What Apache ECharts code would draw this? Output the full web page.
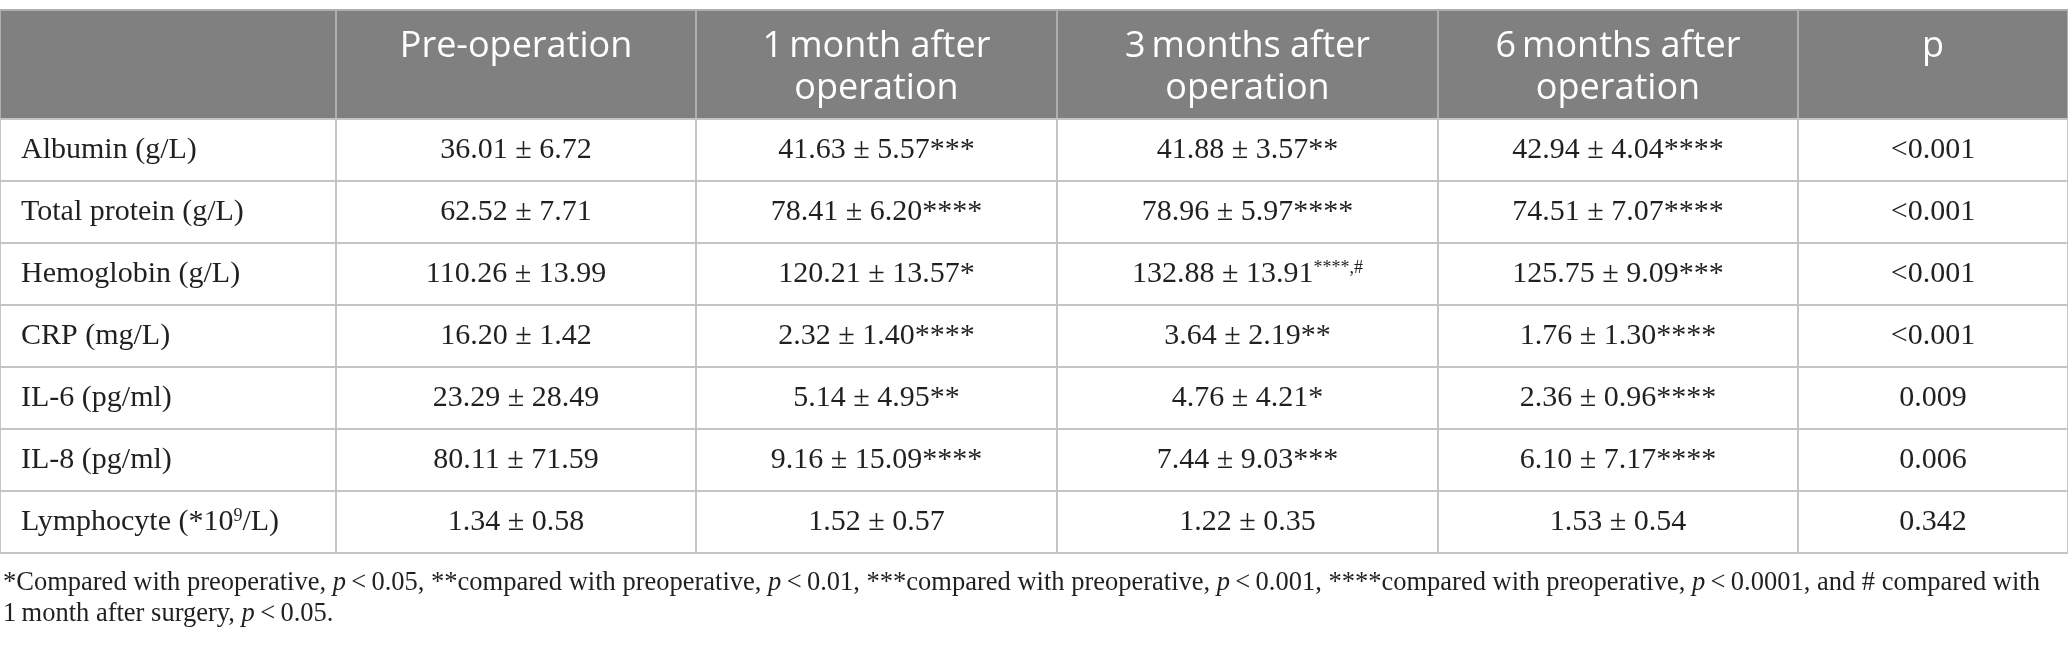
<!DOCTYPE html>
<html>
<head>
<meta charset="utf-8">
<script src="https://cdn.jsdelivr.net/npm/echarts@6/dist/echarts.min.js"></script>
<style>
html, body { margin: 0; padding: 0; background: #fff; }
#main { width: 2068px; height: 647px; }
</style>
</head>
<body>
<div id="main"></div>
<script>
// table content
var headers = ['', 'Pre-operation', '1\u2009month after\noperation', '3\u2009months after\noperation', '6\u2009months after\noperation', 'p'];
var rowLabels = ['Albumin (g/L)', 'Total protein (g/L)', 'Hemoglobin (g/L)', 'CRP (mg/L)', 'IL-6 (pg/ml)', 'IL-8 (pg/ml)', 'Lymphocyte (*10{sup|9}/L)'];
var preOp = ['36.01 ± 6.72', '62.52 ± 7.71', '110.26 ± 13.99', '16.20 ± 1.42', '23.29 ± 28.49', '80.11 ± 71.59', '1.34 ± 0.58'];
var month1 = ['41.63 ± 5.57***', '78.41 ± 6.20****', '120.21 ± 13.57*', '2.32 ± 1.40****', '5.14 ± 4.95**', '9.16 ± 15.09****', '1.52 ± 0.57'];
var month3 = ['41.88 ± 3.57**', '78.96 ± 5.97****', '132.88 ± 13.91{sup|****,#}', '3.64 ± 2.19**', '4.76 ± 4.21*', '7.44 ± 9.03***', '1.22 ± 0.35'];
var month6 = ['42.94 ± 4.04****', '74.51 ± 7.07****', '125.75 ± 9.09***', '1.76 ± 1.30****', '2.36 ± 0.96****', '6.10 ± 7.17****', '1.53 ± 0.54'];
var pValues = ['<0.001', '<0.001', '<0.001', '<0.001', '0.009', '0.006', '0.342'];
var footnote = [
    '*Compared with preoperative, {i|p}\u2009<\u20090.05, **compared with preoperative, {i|p}\u2009<\u20090.01, ***compared with preoperative, {i|p}\u2009<\u20090.001, ****compared with preoperative, {i|p}\u2009<\u20090.0001, and # compared with',
    '1\u2009month after surgery, {i|p}\u2009<\u20090.05.'
];

// layout (axis units = px)
var colEdges = [0, 336, 696, 1057, 1438, 1798, 2068];
var rowEdges = [0, 109, 171, 233, 295, 357, 419, 481, 543];

var serif = '"Liberation Serif", "DejaVu Serif", serif';
var sans = '"Open Sans", "Noto Sans", sans-serif';
var ink = '#231f20';

var columnsData = [rowLabels, preOp, month1, month3, month6, pValues];
var cells = [];
for (var c = 0; c < headers.length; c++) {
    cells.push([c, 0]);
    for (var r = 0; r < rowLabels.length; r++) cells.push([c, r + 1]);
}

function cellText(c, r) {
    return r === 0 ? headers[c] : columnsData[c][r - 1];
}

var bodyRich = {
    sup: { fontFamily: serif, fontSize: 18, fill: ink, verticalAlign: 'top', lineHeight: 30 }
};

function renderItem(params, api) {
    var c = api.value(0), r = api.value(1);
    var p0 = api.coord([colEdges[c], rowEdges[r]]);
    var p1 = api.coord([colEdges[c + 1], rowEdges[r + 1]]);
    var w = p1[0] - p0[0], h = p1[1] - p0[1];
    var isHead = r === 0;
    var rect = {
        type: 'rect',
        shape: { x: p0[0], y: p0[1], width: w, height: h },
        style: { fill: isHead ? '#808080' : '#fff', stroke: isHead ? '#aeaeae' : '#c4c4c4', lineWidth: 2 }
    };
    var txt;
    if (isHead) {
        txt = {
            type: 'text',
            style: {
                text: cellText(c, r), x: p0[0] + w / 2, y: p0[1] + 16,
                align: 'center', verticalAlign: 'top',
                fontFamily: sans, fontSize: 36, lineHeight: 42, fill: '#fff'
            }
        };
    } else {
        txt = {
            type: 'text',
            style: {
                text: cellText(c, r),
                x: c === 0 ? p0[0] + 21 : p0[0] + w / 2, y: p0[1] + h / 2,
                align: c === 0 ? 'left' : 'center', verticalAlign: 'middle',
                fontFamily: serif, fontSize: 30, lineHeight: 30, fill: ink,
                rich: bodyRich
            }
        };
    }
    return { type: 'group', children: [rect, txt] };
}

var footRich = {
    i: { fontFamily: serif, fontSize: 26.5, fontStyle: 'italic', fill: ink }
};

echarts.init(document.getElementById('main')).setOption({
    animation: false,
    grid: { left: 0, top: 10, width: 2068, height: 543 },
    xAxis: { type: 'value', min: 0, max: 2068, show: false },
    yAxis: { type: 'value', min: 0, max: 543, inverse: true, show: false },
    series: [{
        type: 'custom',
        silent: true,
        clip: false,
        renderItem: renderItem,
        data: cells
    }],
    graphic: footnote.map(function (line, i) {
        return {
            type: 'text',
            x: 3, y: 583 + i * 31,
            silent: true,
            style: {
                text: line, verticalAlign: 'middle',
                fontFamily: serif, fontSize: 26.5, fill: ink, rich: footRich
            }
        };
    })
});
</script>
</body>
</html>
